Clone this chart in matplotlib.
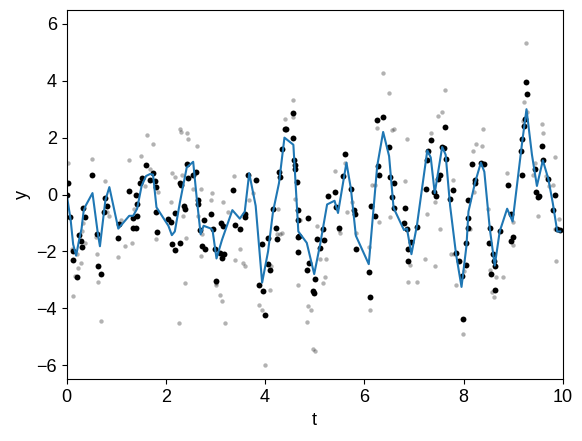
import matplotlib
matplotlib.use("Agg")
import matplotlib.pyplot as plt
import numpy as np

plt.rcParams['font.family'] = ['Liberation Sans', 'DejaVu Sans']
plt.rcParams['font.size'] = 13

# Grey (noisy) samples
grey_t = [0.03, 0.10, 0.13, 0.16, 0.20, 0.23, 0.29, 0.31, 0.33, 0.36, 0.52, 0.60, 0.62, 0.64, 0.70,
          0.78, 0.82, 0.85, 1.04, 1.10, 1.17, 1.26, 1.32, 1.36, 1.50, 1.58, 1.62, 1.68, 1.74, 1.80,
          1.84, 2.10, 2.13, 2.18, 2.27, 2.29, 2.31, 2.33, 2.35, 2.38, 2.43, 2.45, 2.40, 2.55, 2.63,
          2.65, 2.70, 2.70, 2.73, 2.90, 2.93, 3.00, 3.02, 3.09, 3.13, 3.15, 3.19, 3.26, 3.38, 3.40,
          3.50, 3.56, 3.60, 3.67, 3.75, 3.88, 3.94, 3.99, 4.09, 4.12, 4.24, 4.27, 4.30, 4.34, 4.41,
          4.57, 4.57, 4.61, 4.67, 4.70, 4.84, 4.87, 4.93, 4.97, 5.00, 5.04, 5.10, 5.17, 5.20, 5.22,
          5.40, 5.48, 5.50, 5.61, 5.66, 5.76, 5.84, 6.09, 6.11, 6.16, 6.22, 6.26, 6.30, 6.38, 6.50,
          6.55, 6.59, 6.52, 6.83, 6.86, 6.88, 6.93, 7.06, 7.23, 7.27, 7.34, 7.42, 7.42, 7.53, 7.57,
          7.62, 7.48, 7.74, 7.78, 7.80, 7.84, 7.98, 8.02, 8.14, 8.19, 8.26, 8.22, 8.38, 8.40, 8.50,
          8.53, 8.58, 8.62, 8.66, 8.80, 8.88, 8.99, 8.99, 9.22, 9.20, 9.25, 9.29, 9.40, 9.50, 9.44,
          9.59, 9.60, 9.66, 9.72, 9.80, 9.84, 9.85, 9.86, 9.92]
grey_y = [1.12, -1.9, -3.58, -2.85, -2.1, -2.58, -2.41, -1.3, -1.0, -1.7, 1.26, -1.5, -2.08, -3.09, -4.46,
          0.47, -0.6, -0.74, -2.2, -0.9, -1.82, 1.21, -1.7, -0.5, 1.35, 0.3, 2.08, 0.9, 1.76, -1.58,
          0.1, -0.27, 0.76, 0.6, -4.52, 2.3, 2.2, 0.7, -0.75, -3.11, 2.17, 1.96, -1.53, 0.2, 1.7,
          -0.75, 0.2, -2.17, -1.4, -0.2, 0.06, -3.1, -3.2, -3.52, -3.76, -0.25, -4.52, -0.6, 0.65, -2.29,
          -1.9, -2.41, -2.5, -0.2, 0.05, -3.87, -4.05, -5.99, -3.35, -2.5, -1.4, -0.5, -1.4, -1.35, 2.64,
          3.32, 2.74, -0.15, -3.17, -0.9, -4.5, -3.91, -4.05, -5.43, -5.5, -1.1, -2.27, -3.11, -2.9, -2.27,
          0.82, -1.25, -1.35, 1.1, -0.6, -0.25, -1.35, -1.85, -4.05, 0.35, 0.35, 2.35, -0.95, 4.26, 3.58,
          2.27, 2.3, -0.79, 0.47, 1.94, -3.09, -2.47, -3.09, -2.27, -0.7, 2.15, -2.52, -0.25, -1.23, 2.9,
          3.67, 2.76, -2.11, 0.5, -2.1, -3.2, -4.9, -2.7, -1.2, 1.53, 1.76, 0.1, 1.70, 2.29, -0.5,
          -2.64, -3.44, -3.62, -2.9, -2.9, 0.76, -1.78, -0.98, 3.25, 2.6, 5.34, 2.9, 0.7, -0.76, 1.1,
          2.47, 2.17, 0.65, 0.3, 0.35, 1.33, -1.2, -2.35, -0.85]

# Black (observed) samples
black_t = [0.03, 0.01, 0.07, 0.13, 0.13, 0.21, 0.25, 0.28, 0.30, 0.33, 0.37, 0.52, 0.62, 0.64, 0.69,
           0.77, 0.81, 0.76, 1.04, 1.06, 1.26, 1.34, 1.33, 1.40, 1.41, 1.42, 1.40, 1.48, 1.51, 1.60,
           1.67, 1.73, 1.78, 1.80, 1.83, 1.81, 2.05, 2.10, 2.12, 2.18, 2.18, 2.28, 2.30, 2.29, 2.37,
           2.38, 2.42, 2.45, 2.55, 2.61, 2.64, 2.65, 2.68, 2.72, 2.76, 2.79, 2.91, 2.94, 2.99, 3.02,
           3.10, 3.13, 3.17, 3.11, 3.16, 3.36, 3.40, 3.49, 3.59, 3.59, 3.66, 3.81, 3.88, 3.93, 3.95,
           3.99, 4.05, 4.06, 4.10, 4.16, 4.22, 4.23, 4.28, 4.31, 4.35, 4.40, 4.42, 4.57, 4.57, 4.59,
           4.60, 4.61, 4.65, 4.67, 4.67, 4.66, 4.69, 4.67, 4.84, 4.87, 4.89, 4.96, 4.98, 5.01, 5.04,
           5.11, 5.17, 5.19, 5.26, 5.40, 5.42, 5.49, 5.58, 5.61, 5.73, 5.79, 5.81, 5.83, 6.09, 6.11,
           6.13, 6.22, 6.26, 6.28, 6.30, 6.38, 6.50, 6.52, 6.55, 6.59, 6.59, 6.80, 6.82, 6.86, 6.88,
           6.89, 6.95, 7.06, 7.25, 7.27, 7.28, 7.34, 7.40, 7.44, 7.48, 7.53, 7.57, 7.60, 7.63, 7.64,
           7.73, 7.78, 7.85, 7.90, 7.96, 7.98, 8.05, 8.06, 8.09, 8.09, 8.10, 8.18, 8.23, 8.24, 8.35,
           8.42, 8.53, 8.51, 8.56, 8.60, 8.62, 8.63, 8.63, 8.73, 8.90, 8.95, 8.99, 8.95, 9.15, 9.18,
           9.18, 9.22, 9.24, 9.27, 9.29, 9.44, 9.47, 9.50, 9.53, 9.59, 9.60, 9.71, 9.80, 9.84, 9.88,
           9.94]
black_y = [0.41, -0.03, -0.79, -1.97, -2.32, -2.91, -1.43, -1.62, -1.85, -0.49, -0.79, 0.67, -1.40, -2.52, -2.78,
           -0.14, -0.41, -0.62, -1.54, -1.03, 0.12, -0.84, -1.17, -1.17, -0.76, -0.35, -0.02, 0.40, 0.57, 1.03,
           0.50, 0.76, 0.47, 0.26, -1.31, -0.62, -0.85, -0.95, -1.75, -1.96, -0.65, 0.40, 0.35, -1.70, -0.40,
           -0.50, 1.08, 0.59, 0.67, 0.78, -0.20, -0.35, -1.25, -1.80, -0.90, -1.91, -0.67, -1.23, -1.91, -3.03,
           -2.05, -2.25, -2.10, -1.00, -1.10, 0.16, -1.09, -1.23, -0.70, -0.80, 0.70, 0.52, -3.18, -1.74, -3.38,
           -4.23, -2.44, -1.53, -2.64, -0.50, -1.19, -1.58, 0.80, 0.60, 1.60, 2.29, 2.29, 2.88, 2.00, 1.20,
           1.05, 0.88, 0.43, -0.55, -0.88, -1.49, -1.45, -2.03, -2.64, -0.82, -2.41, -3.38, -3.45, -2.97, -1.58,
           -1.88, -1.23, -1.61, -0.06, 0.08, -0.43, -1.17, 0.65, 1.43, 0.18, -0.55, -0.70, -1.91, -2.72, -3.60,
           -0.39, -0.76, 2.61, 1.02, 0.67, 2.74, 1.67, 0.62, -0.08, 0.41, -0.47, -1.00, -0.47, -1.21, -2.35,
           -1.91, -1.67, -1.14, 0.20, 1.20, 1.53, 1.91, 0.10, -0.06, 0.53, 0.70, 1.68, 1.62, 2.38, 1.26,
           -0.15, 0.15, -2.05, -2.35, -2.88, -4.38, -2.47, -1.70, -0.82, -1.17, -0.21, 1.06, 0.40, 0.50, 1.10,
           1.08, -1.17, -1.70, -2.78, -2.10, -2.35, -2.52, -3.35, -1.29, 0.32, -0.68, -1.49, -1.64, 1.53, 1.94,
           0.67, 2.40, 2.64, 3.97, 3.52, 0.88, 0.08, -0.10, -0.05, 1.70, 1.20, 0.53, -0.53, 0.00, -1.23,
           -1.25]

# Smoothed estimate (blue line)
line_t = [0.00, 0.08, 0.13, 0.19, 0.25, 0.30, 0.34, 0.38, 0.52, 0.63, 0.67, 0.78, 0.86, 1.04, 1.26,
          1.34, 1.42, 1.51, 1.60, 1.68, 1.74, 1.81, 2.05, 2.12, 2.18, 2.28, 2.42, 2.55, 2.62, 2.70,
          2.76, 2.91, 2.94, 3.02, 3.13, 3.34, 3.49, 3.59, 3.68, 3.81, 3.94, 4.06, 4.16, 4.28, 4.39,
          4.57, 4.67, 4.84, 4.99, 5.11, 5.25, 5.40, 5.47, 5.64, 5.73, 5.83, 6.09, 6.26, 6.38, 6.50,
          6.59, 6.80, 6.86, 6.95, 7.06, 7.27, 7.34, 7.42, 7.57, 7.64, 7.73, 7.85, 7.96, 8.06, 8.10,
          8.23, 8.35, 8.42, 8.53, 8.63, 8.73, 8.88, 8.99, 9.18, 9.27, 9.38, 9.48, 9.60, 9.71, 9.80,
          9.89, 9.95]
line_y = [0.0, -0.9, -1.75, -2.15, -1.6, -1.2, -0.6, -0.4, 0.05, -1.4, -1.82, -0.2, 0.26, -1.2, -0.75,
          -0.75, -0.5, 0.3, 0.65, 0.72, 0.7, -0.45, -1.1, -1.43, -1.3, -0.3, 0.95, 1.15, -0.1, -1.4,
          -1.1, -1.2, -1.25, -2.25, -1.6, -0.55, -0.85, -0.6, 0.75, -0.4, -3.1, -2.0, -0.6, 0.4, 2.0,
          1.75, -1.3, -1.7, -2.8, -1.75, -0.35, -0.22, -0.65, 1.12, 0.2, -1.45, -2.45, 1.0, 2.2, 1.35,
          -0.47, -1.25, -1.2, -2.1, -1.1, 1.55, 1.3, 0.05, 1.67, 1.4, -0.4, -2.1, -3.25, -1.8, -0.6,
          0.4, 1.12, 0.8, -1.2, -2.5, -1.3, -0.5, -0.95, 1.8, 3.0, 1.4, 0.3, 1.2, 0.55, -0.3,
          -1.3, -1.3]

fig = plt.figure(figsize=(5.82, 4.41), dpi=100)
ax = fig.add_axes([66.7 / 582, (441 - 379.3) / 441, 496 / 582, 369.6 / 441])

ax.scatter(grey_t, grey_y, s=10, color='black', alpha=0.3, linewidths=0)
ax.scatter(black_t, black_y, s=18, color='black', linewidths=0)
ax.plot(line_t, line_y, color='#1f77b4', lw=1.5)

ax.set_xlim(0, 10)
ax.set_ylim(-6.5, 6.5)
ax.set_xticks([0, 2, 4, 6, 8, 10])
ax.set_yticks([-6, -4, -2, 0, 2, 4, 6])
ax.set_xlabel('t')
ax.set_ylabel('y')

fig.savefig('out.png', dpi=100)
